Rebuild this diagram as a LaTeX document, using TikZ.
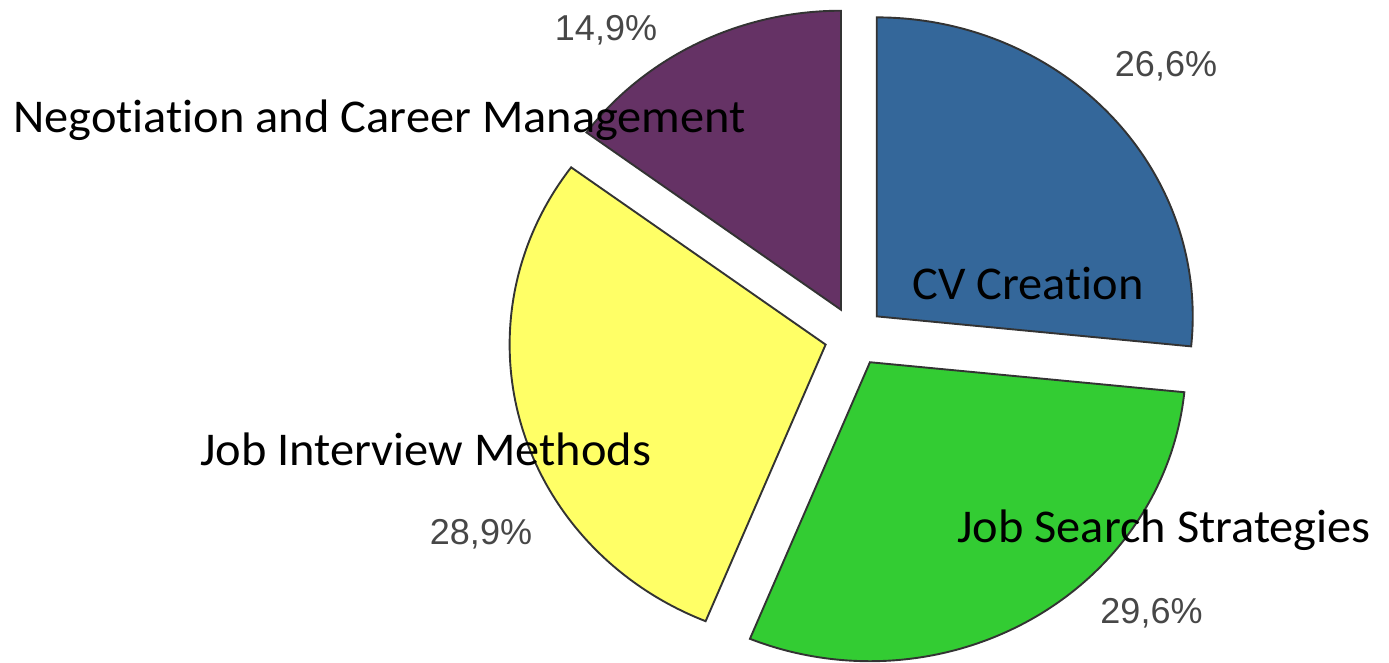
\documentclass[tikz,border=0pt]{standalone}
\usepackage{fontspec}
\setmainfont{Carlito}[Ligatures=NoCommon]
\newfontfamily\pctfont{Liberation Sans}
\definecolor{cvblue}{HTML}{34679A}
\definecolor{jsgreen}{HTML}{33CC33}
\definecolor{jiyellow}{HTML}{FFFF66}
\definecolor{ncpurple}{HTML}{653265}
\begin{document}
\begin{tikzpicture}[x=1pt,y=1pt,
  slice/.style={draw=black!80, line width=1.9pt, line join=miter},
  cat/.style={font=\fontsize{47}{56}\selectfont, xscale=1.03, inner sep=0pt, anchor=base west, text=black},
  pct/.style={font=\pctfont\fontsize{36}{43}\selectfont, inner sep=0pt, text=black!72}]
\useasboundingbox (0,0) rectangle (1389,662);
% pie center and exploded slice vertices
\coordinate (C) at (854.5,325.5);
\coordinate (vB) at ([shift={(42.12:30pt)}]C);
\coordinate (vG) at ([shift={(-59.04:30pt)}]C);
\coordinate (vY) at ([shift={(-164.34:30pt)}]C);
\coordinate (vP) at ([shift={(116.82:30pt)}]C);
% slices
\draw[slice, fill=cvblue] (vB) -- ++(90:316pt and 299pt)
  arc[start angle=90, end angle=-5.76, x radius=316pt, y radius=299pt] -- cycle;
\draw[slice, fill=jsgreen] (vG) -- ++(-5.76:316pt and 299pt)
  arc[start angle=-5.76, end angle=-112.32, x radius=316pt, y radius=299pt] -- cycle;
\draw[slice, fill=jiyellow] (vY) -- ++(-112.32:316pt and 299pt)
  arc[start angle=-112.32, end angle=-216.36, x radius=316pt, y radius=299pt] -- cycle;
\draw[slice, fill=ncpurple] (vP) -- ++(143.64:316pt and 299pt)
  arc[start angle=143.64, end angle=90, x radius=316pt, y radius=299pt] -- cycle;
% percentages
\node[pct] (p1) at (606,632) {14,9\%};
\node[pct] (p2) at (1166,596) {26,6\%};
\node[pct] (p3) at (481,128) {28,9\%};
\node[pct] (p4) at (1151.5,48.5) {29,6\%};
% category labels
\node[cat] (l1) at (13,529) {Negotiation and Career Management};
\node[cat] (l2) at (912,362) {CV Creation};
\node[cat] (l3) at (200,197) {Job Interview Methods};
\node[cat] (l4) at (957,120) {Job Search Strategies};
\end{tikzpicture}
\end{document}
